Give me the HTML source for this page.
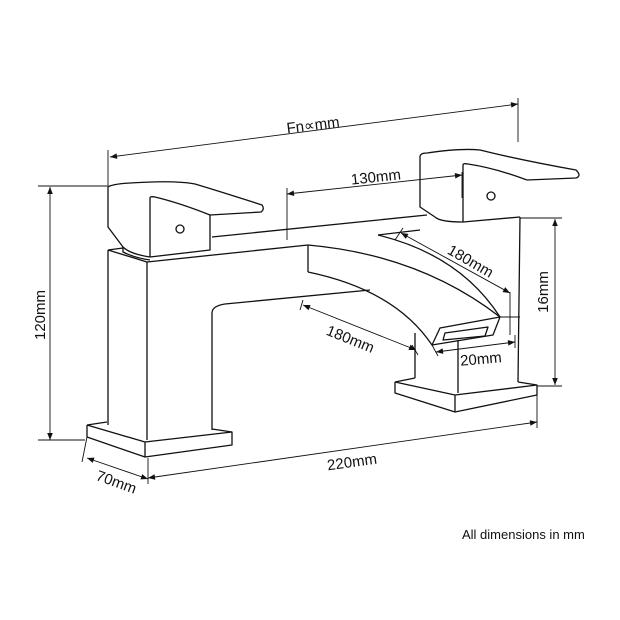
<!DOCTYPE html>
<html><head><meta charset="utf-8"><style>
html,body{margin:0;padding:0;background:#fff}
svg{display:block}
text{font-family:"Liberation Sans",sans-serif;fill:#111}
</style></head><body>
<svg width="620" height="620" viewBox="0 0 620 620" xmlns="http://www.w3.org/2000/svg">
<defs>
<marker id="a" viewBox="0 0 10 10" refX="10" refY="5" markerWidth="9" markerHeight="7" orient="auto-start-reverse" markerUnits="userSpaceOnUse"><path d="M0,1 L10,5 L0,9 z" fill="#111"/></marker>
</defs>
<g fill="none" stroke="#111" stroke-width="1.3" stroke-linejoin="round">
<path d="M108,187 Q112,184 130,183 Q175,180 195,184 Q225,193 262,205 Q265,209 261,212 L210,215"/>
<path d="M108,187 L108,227 L123,247"/>
<path d="M150,198 Q150,196 155,197 Q180,203 210,215 L210,250 L150,257 Z"/>
<circle cx="180" cy="229" r="4"/>
<path d="M123,247 Q130,254 150,257 M123,247 L123,252 Q135,258 150,260"/>
<path d="M212,237 L427,215"/>
<path d="M108,250 L147,262 L308,245 M108,250 L123,248"/>
<path d="M108,250 L108,425 M147,262 L147,440 M212,313 L212,430"/>
<path d="M212,313 Q212,306 225,304 L370,290"/>
<path d="M87,425 L107,422 M87,425 L87,437 L145,457 L232,445 L232,432 L212,429 M87,425 L145,442 L232,432 M145,442 L145,457"/>
<path d="M308,245 L308,272 M308,245 Q420,255 500,317 M308,272 Q395,290 432,345"/>
<path d="M500,317 L493,335 L432,345 L440,328 Z"/>
<path d="M445,333 L488,327 L485,336 L443,340 Z"/>
<path d="M378,235 Q460,255 500,317"/>
<path d="M378,235 L420,230"/>
<path d="M420,157 Q420,153 427,153 Q460,148 480,150 Q520,160 576,170 Q582,176 576,178 L527,180"/>
<path d="M420,157 L420,207 L435,217"/>
<path d="M463,165 Q463,163 468,164 Q495,168 527,180 M463,165 L463,222 L520,217"/>
<circle cx="491" cy="196" r="4"/>
<path d="M435,217 Q440,222 463,222"/>
<path d="M520,217 L518,382 M415,333 L415,378 M458,340 L458,393"/>
<path d="M395,382 L395,393 L455,412 L537,395 L537,385 L518,382 M395,382 L415,378 M395,382 L455,395 L537,385 M455,395 L455,412"/>
</g>
<g fill="none" stroke="#111" stroke-width="0.9">
<path d="M108,150 L108,186 M518,98 L518,142 M287,188 L287,240 M462,172 L462,198"/>
<path d="M38,186 L108,186 M38,440 L85,440"/>
<path d="M520,218 L562,218 M537,386 L562,386"/>
<path d="M537,395 L537,428 M148,458 L148,484 M87,437 L82,462"/>
<path d="M500,317 L520,317 M510,292 L510,335 M432,345 L438,356 M515,335 L515,348"/>
<path d="M403,228 L395,240 M303,300 L300,310 M412,345 L418,355"/>
<line x1="110" y1="157" x2="518" y2="104" marker-start="url(#a)" marker-end="url(#a)"/>
<line x1="287" y1="194" x2="462" y2="175" marker-start="url(#a)" marker-end="url(#a)"/>
<line x1="50" y1="187" x2="50" y2="440" marker-start="url(#a)" marker-end="url(#a)"/>
<line x1="555" y1="219" x2="555" y2="385" marker-start="url(#a)" marker-end="url(#a)"/>
<line x1="401" y1="233" x2="510" y2="293" marker-start="url(#a)" marker-end="url(#a)"/>
<line x1="303" y1="305" x2="416" y2="350" marker-start="url(#a)" marker-end="url(#a)"/>
<line x1="436" y1="352" x2="515" y2="342" marker-start="url(#a)" marker-end="url(#a)"/>
<line x1="148" y1="478" x2="537" y2="422" marker-start="url(#a)" marker-end="url(#a)"/>
<line x1="87" y1="458" x2="148" y2="479" marker-start="url(#a)" marker-end="url(#a)"/>
</g>
<g font-size="15">
<text x="313" y="130" text-anchor="middle" transform="rotate(-7 313 125)">Fn∝mm</text>
<text x="376" y="182" text-anchor="middle" transform="rotate(-6 376 178)">130mm</text>
<text x="45" y="315" text-anchor="middle" transform="rotate(-90 45 315)">120mm</text>
<text x="548" y="292" text-anchor="middle" transform="rotate(-90 548 292)">16mm</text>
<text x="470" y="266" text-anchor="middle" transform="rotate(30 470 262)">180mm</text>
<text x="350" y="344" text-anchor="middle" transform="rotate(22 350 340)">180mm</text>
<text x="481" y="364" text-anchor="middle" transform="rotate(-5 481 360)">20mm</text>
<text x="352" y="467" text-anchor="middle" transform="rotate(-8 352 462)">220mm</text>
<text x="116" y="487" text-anchor="middle" transform="rotate(20 116 483)">70mm</text>
<text x="462" y="539" font-size="13">All dimensions in mm</text>
</g>
</svg>
</body></html>
